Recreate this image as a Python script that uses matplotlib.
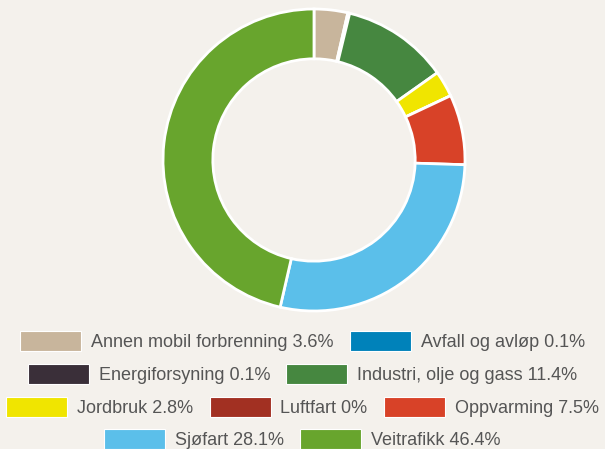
import matplotlib
matplotlib.use("Agg")
import matplotlib.pyplot as plt
from matplotlib.patches import Patch

labels = ["Annen mobil forbrenning", "Avfall og avløp", "Energiforsyning",
          "Industri, olje og gass", "Jordbruk", "Luftfart", "Oppvarming",
          "Sjøfart", "Veitrafikk"]
values = [3.6, 0.1, 0.1, 11.4, 2.8, 0.0, 7.5, 28.1, 46.4]
value_text = ["3.6%", "0.1%", "0.1%", "11.4%", "2.8%", "0%", "7.5%", "28.1%", "46.4%"]
colors = ["#c8b59c", "#0082ba", "#3a2f39", "#468740", "#f0e500",
          "#a23022", "#d84228", "#5bbfea", "#68a52d"]
rows = [[0, 1], [2, 3], [4, 5, 6], [7, 8]]

bg = "#f4f1ec"
plt.rcParams['font.family'] = ['Liberation Sans', 'DejaVu Sans']

fig = plt.figure(figsize=(6.05, 4.49), dpi=100, facecolor=bg)
# donut centred at (314, 160) px, outer radius ~151 px
ax = fig.add_axes([163 / 605, 138 / 449, 302 / 605, 302 / 449])
ax.set_facecolor(bg)
ax.pie(values, colors=colors, startangle=90, counterclock=False,
       radius=1.0, wedgeprops=dict(width=0.33, edgecolor="white", linewidth=2))
ax.set_xlim(-1.0, 1.0)
ax.set_ylim(-1.0, 1.0)
ax.set_aspect("equal")
ax.axis("off")

row_y = [1 - 341 / 449, 1 - 374 / 449, 1 - 407 / 449, 1 - 439 / 449]
for r, y in zip(rows, row_y):
    handles = [Patch(facecolor=colors[i], edgecolor="white", linewidth=0.8) for i in r]
    texts = [labels[i] + " " + value_text[i] for i in r]
    leg = fig.legend(handles, texts, loc="center", bbox_to_anchor=(0.5, y),
                     ncol=len(r), frameon=False, fontsize=13,
                     handlelength=3.38, handleheight=1.4, handletextpad=0.55,
                     columnspacing=0.9, borderpad=0, borderaxespad=0)
    for t in leg.get_texts():
        t.set_color("#555555")

fig.savefig("out.png", dpi=100, facecolor=bg)
